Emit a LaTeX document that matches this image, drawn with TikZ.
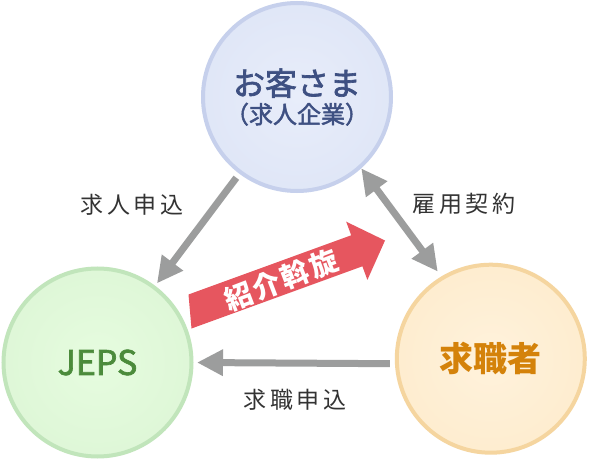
\documentclass[tikz,border=0pt]{standalone}
\usepackage{fontspec}
\setmainfont{Noto Sans CJK JP}
\newfontfamily\medfont[FakeBold=2]{Noto Sans CJK JP}
\usetikzlibrary{arrows.meta}
\definecolor{topA}{HTML}{E8EDFA}
\definecolor{topB}{HTML}{CFD9F1}
\definecolor{topline}{HTML}{C6D0EC}
\definecolor{toptext}{HTML}{3E5082}
\definecolor{grnA}{HTML}{E6FCDF}
\definecolor{grnB}{HTML}{CFEDC8}
\definecolor{grnline}{HTML}{C1E5BB}
\definecolor{grntext}{HTML}{4B8B3B}
\definecolor{orgA}{HTML}{FFF2DC}
\definecolor{orgB}{HTML}{FBE2B6}
\definecolor{orgline}{HTML}{F5D59F}
\definecolor{orgtext}{HTML}{D4820A}
\definecolor{redarrow}{HTML}{E6565F}
\definecolor{arrowgray}{HTML}{9C9D9D}
\definecolor{labeltext}{HTML}{333333}
\pgfdeclareradialshading{topshade}{\pgfpoint{0bp}{0bp}}{color(0bp)=(topA); color(30bp)=(topA!60!topB); color(50bp)=(topB)}
\pgfdeclareradialshading{grnshade}{\pgfpoint{0bp}{0bp}}{color(0bp)=(grnA); color(30bp)=(grnA!60!grnB); color(50bp)=(grnB)}
\pgfdeclareradialshading{orgshade}{\pgfpoint{0bp}{0bp}}{color(0bp)=(orgA); color(30bp)=(orgA!60!orgB); color(50bp)=(orgB)}
\newcommand\labsp{\hspace{3.5pt}}
\newcommand\redsp{\hspace{2.5pt}}
\tikzset{
  party/.style={circle, minimum size=188pt, inner sep=0pt, line width=4pt},
  grayarrow/.style={draw=arrowgray, line width=7pt, -{Triangle[width=25pt,length=26pt]}},
  graydouble/.style={draw=arrowgray, line width=7pt, {Triangle[width=25pt,length=26pt]}-{Triangle[width=25pt,length=26pt]}},
  lbl/.style={text=labeltext, font=\fontsize{23pt}{23pt}\selectfont, inner sep=0pt}
}
\begin{document}
\begin{tikzpicture}[x=1pt,y=-1pt]
\fill[white] (0,0) rectangle (590,460);
\useasboundingbox (0,0) rectangle (590,460);
% parties
\node[party, draw=topline, shading=topshade, text=toptext, align=center] (top) at (297,97)
  {\fontsize{32pt}{40pt}\selectfont\medfont お客さま\\[4pt]\fontsize{24pt}{40pt}\selectfont\medfont （求人企業）};
\node[party, draw=grnline, shading=grnshade, text=grntext, font=\fontsize{34pt}{34pt}\selectfont\medfont] (jeps) at (97.5,362.5) {JEPS};
\node[party, draw=orgline, shading=orgshade, text=orgtext, font=\fontsize{34pt}{34pt}\selectfont\bfseries] (qz) at (490.8,358.7) {求職者};
% gray connectors
\draw[grayarrow, shorten <=5pt, shorten >=3pt] (top) -- (jeps);
\draw[graydouble, shorten >=6pt] (top.-48.6) -- (qz.121.9);
\draw[grayarrow, shorten <=5pt, shorten >=3.5pt] (qz.183.2) -- (jeps.-0.9);
% labels
\node[lbl] (l1) at (132,205) {求\labsp 人\labsp 申\labsp 込};
\node[lbl] (l2) at (464,204) {雇\labsp 用\labsp 契\labsp 約};
\node[lbl] (l3) at (295,400) {求\labsp 職\labsp 申\labsp 込};
% red arrow
\fill[redarrow] (188.5,294.5) -- (351.2,235.3) -- (346.2,221.7) -- (385,240.5)
  -- (367.4,279.9) -- (362.4,266.3) -- (191.5,328.5) -- cycle;
\node[rotate=21, text=white, inner sep=0pt, font=\fontsize{28pt}{28pt}\selectfont\bfseries] (sk) at (281,280)
  {紹\redsp 介\redsp 斡\redsp 旋};
\end{tikzpicture}
\end{document}
